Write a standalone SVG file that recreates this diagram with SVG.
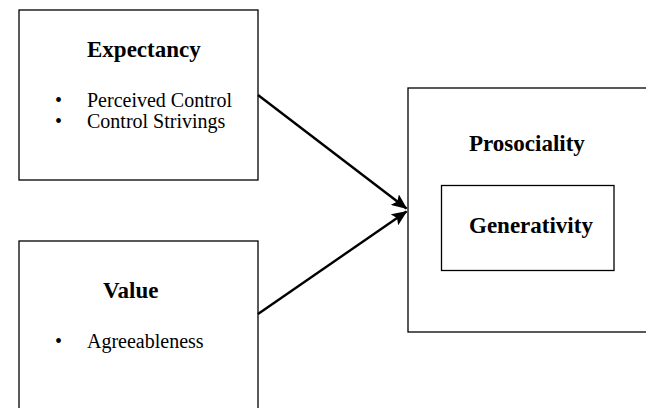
<svg xmlns="http://www.w3.org/2000/svg" width="646" height="408" viewBox="0 0 646 408">
<style>
.box{fill:#fff;stroke:#000;stroke-width:1.3}
.h{font-family:"Liberation Serif","Times New Roman",serif;font-weight:bold;font-size:23px;fill:#000}
.t{font-family:"Liberation Serif","Times New Roman",serif;font-size:20px;fill:#000}
.conn{stroke:#000;stroke-width:2.4;fill:none;marker-end:url(#ah)}
</style>
<defs>
<marker id="ah" markerWidth="6.5" markerHeight="5.5" refX="6.1" refY="2.75" orient="auto" markerUnits="strokeWidth">
<path d="M0,0 L6.5,2.75 L0,5.5 L1.3,2.75 Z" fill="#000"/>
</marker>
</defs>
<rect width="646" height="408" fill="#fff"/>
<g id="expectancy">
<rect class="box" x="19" y="10" width="239" height="170"/>
<text class="h" x="87" y="57">Expectancy</text>
<text class="t" x="55" y="107">•</text>
<text class="t" x="87" y="107">Perceived Control</text>
<text class="t" x="55" y="128">•</text>
<text class="t" x="87" y="128">Control Strivings</text>
</g>
<g id="value">
<rect class="box" x="19" y="241" width="239" height="180"/>
<text class="h" x="103" y="298">Value</text>
<text class="t" x="55" y="348">•</text>
<text class="t" x="87" y="348">Agreeableness</text>
</g>
<g id="prosociality">
<rect class="box" x="408" y="88" width="250" height="244"/>
<text class="h" x="469" y="151">Prosociality</text>
<g id="generativity">
<rect class="box" x="441.5" y="185.5" width="172.5" height="85"/>
<text class="h" x="469" y="233">Generativity</text>
</g>
</g>
<g id="connectors">
<path class="conn" d="M258,95 L406.5,208.5"/>
<path class="conn" d="M258,314 L406.5,211.5"/>
</g>
</svg>
